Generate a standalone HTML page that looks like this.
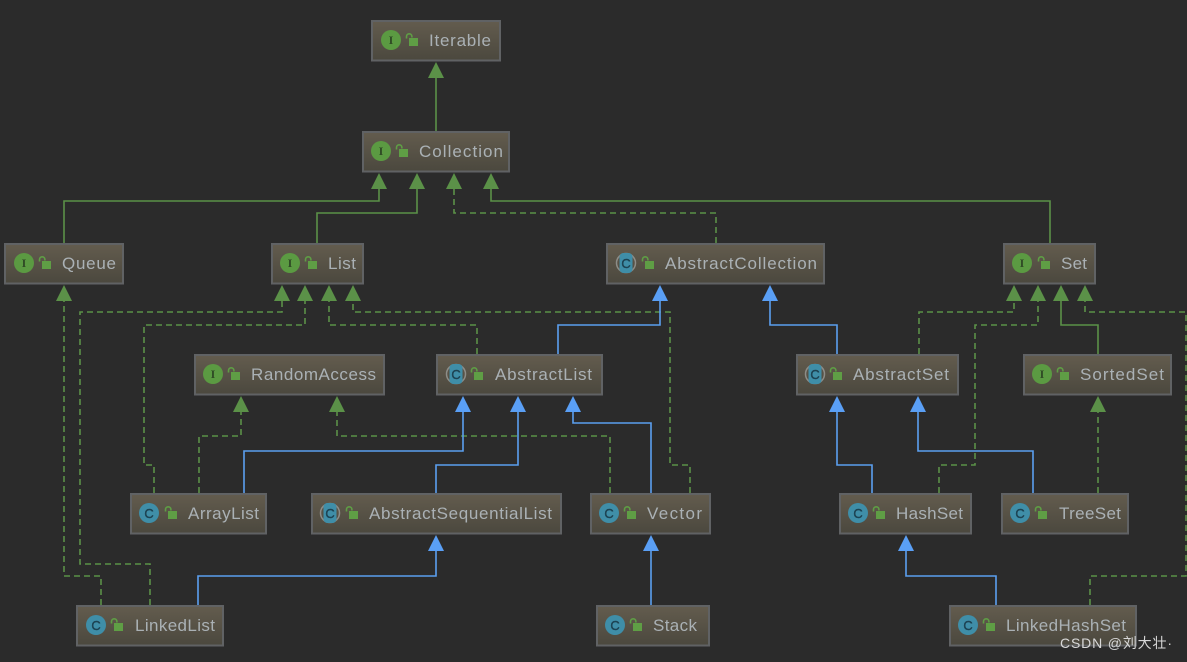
<!DOCTYPE html>
<html><head><meta charset="utf-8"><style>
html,body{margin:0;padding:0;background:#2b2b2b;width:1187px;height:662px;overflow:hidden}
svg{display:block}
.b{fill:url(#g);stroke:#606264;stroke-width:2}
.t{font:17px "Liberation Sans",sans-serif;fill:#aab1b5;filter:url(#s)}
.i{font:bold 12px "Liberation Serif",serif;fill:#2f4a25;text-anchor:middle}
.c{font:13px "Liberation Sans",sans-serif;fill:#1d4353;text-anchor:middle;stroke:#1d4353;stroke-width:.4}
.gs path,.gd path{fill:none;stroke:#5b9148;stroke-width:1.6}
.gd path{stroke-dasharray:6 4}
.bs path{fill:none;stroke:#5b9ff0;stroke-width:1.6}
.ga polygon{fill:#5b9148}
.ba polygon{fill:#5a9ff5}
.w{font:14px "Liberation Sans","Noto Sans CJK SC",sans-serif;fill:#d8d8d8}
</style></head><body>
<svg width="1187" height="662" viewBox="0 0 1187 662" xmlns="http://www.w3.org/2000/svg">
<defs>
<linearGradient id="g" x1="0" y1="0" x2="0" y2="1"><stop offset="0" stop-color="#635c4e"/><stop offset="1" stop-color="#4b483e"/></linearGradient>
<filter id="s" x="-5%" y="-20%" width="110%" height="140%"><feGaussianBlur stdDeviation="0.3"/></filter>
<g id="lock"><rect x="-3" y="-3" width="9" height="8" fill="#5f9e45"/><path d="M-5.500-2.500v-2a2.700 2.700 0 0 1 5.400 0v1" fill="none" stroke="#5f9e45" stroke-width="1.600"/></g>
<g id="ic"><circle r="10" fill="#5b9a42"/><text class="i" y="4">I</text></g>
<g id="cc"><circle r="10" fill="#3f8ea8"/><text class="c" y="5">C</text></g>
<g id="ac"><circle r="9.500" fill="none" stroke="#8d8d88" stroke-width="1.500"/><rect x="-6.500" y="-10" width="13" height="20" rx="4" fill="#3f8ea8"/><text class="c" y="5">C</text></g>
</defs>
<rect width="1187" height="662" fill="#2b2b2b"/>

<g class="gs">
<path d="M436 131V70"/>
<path d="M64 243V201H379V185"/>
<path d="M317 243V213H417V185"/>
<path d="M1050 243V201H491V185"/>
<path d="M1098 354V325H1061V297"/>
</g>
<g class="gd">
<path d="M716 243V213H454V185"/>
<path d="M101 605V576H64V297"/>
<path d="M150 605V564H80V312H282V297"/>
<path d="M154 493V465H144V325H305V297"/>
<path d="M477 354V325H329V297"/>
<path d="M690 493V465H670V312H353V297"/>
<path d="M199 493V436H241V408"/>
<path d="M610 493V436H337V408"/>
<path d="M919 354V312H1014V297"/>
<path d="M939 493V465H975V325H1038V297"/>
<path d="M1090 605V576H1186V312H1085V297"/>
<path d="M1098 493V408"/>
</g>
<g class="bs">
<path d="M558 354V325H660V297"/>
<path d="M837 354V325H770V297"/>
<path d="M244 493V451H463V408"/>
<path d="M436 493V465H518V408"/>
<path d="M651 493V423H573V408"/>
<path d="M872 493V465H837V408"/>
<path d="M1033 493V451H918V408"/>
<path d="M198 605V576H436V547"/>
<path d="M651 605V547"/>
<path d="M996 605V576H906V547"/>
</g>
<g class="ga">
<polygon points="436,62 428,78 444,78"/>
<polygon points="379,173 371,189 387,189"/>
<polygon points="417,173 409,189 425,189"/>
<polygon points="454,173 446,189 462,189"/>
<polygon points="491,173 483,189 499,189"/>
<polygon points="64,285 56,301 72,301"/>
<polygon points="282,285 274,301 290,301"/>
<polygon points="305,285 297,301 313,301"/>
<polygon points="329,285 321,301 337,301"/>
<polygon points="353,285 345,301 361,301"/>
<polygon points="1014,285 1006,301 1022,301"/>
<polygon points="1038,285 1030,301 1046,301"/>
<polygon points="1061,285 1053,301 1069,301"/>
<polygon points="1085,285 1077,301 1093,301"/>
<polygon points="241,396 233,412 249,412"/>
<polygon points="337,396 329,412 345,412"/>
<polygon points="1098,396 1090,412 1106,412"/>
</g>
<g class="ba">
<polygon points="660,285 652,301 668,301"/>
<polygon points="770,285 762,301 778,301"/>
<polygon points="463,396 455,412 471,412"/>
<polygon points="518,396 510,412 526,412"/>
<polygon points="573,396 565,412 581,412"/>
<polygon points="837,396 829,412 845,412"/>
<polygon points="918,396 910,412 926,412"/>
<polygon points="436,535 428,551 444,551"/>
<polygon points="651,535 643,551 659,551"/>
<polygon points="906,535 898,551 914,551"/>
</g>

<g>
<rect class="b" x="372" y="21" width="128" height="39.500"/><use href="#ic" x="391" y="40"/><use href="#lock" x="412" y="41"/><text class="t" x="429" y="46" textLength="62">Iterable</text>
<rect class="b" x="363" y="132" width="146" height="39.500"/><use href="#ic" x="381" y="151"/><use href="#lock" x="402" y="152"/><text class="t" x="419" y="157" textLength="84">Collection</text>
<rect class="b" x="5" y="244" width="118" height="39.500"/><use href="#ic" x="24" y="263"/><use href="#lock" x="45" y="264"/><text class="t" x="62" y="269" textLength="54">Queue</text>
<rect class="b" x="272" y="244" width="91" height="39.500"/><use href="#ic" x="290" y="263"/><use href="#lock" x="311" y="264"/><text class="t" x="328" y="269" textLength="28">List</text>
<rect class="b" x="607" y="244" width="217" height="39.500"/><use href="#ac" x="626" y="263"/><use href="#lock" x="648" y="264"/><text class="t" x="665" y="269" textLength="152">AbstractCollection</text>
<rect class="b" x="1004" y="244" width="91" height="39.500"/><use href="#ic" x="1022" y="263"/><use href="#lock" x="1044" y="264"/><text class="t" x="1061" y="269" textLength="26">Set</text>
<rect class="b" x="195" y="355" width="189" height="39.500"/><use href="#ic" x="213" y="374"/><use href="#lock" x="234" y="375"/><text class="t" x="251" y="380" textLength="125">RandomAccess</text>
<rect class="b" x="437" y="355" width="165" height="39.500"/><use href="#ac" x="456" y="374"/><use href="#lock" x="477" y="375"/><text class="t" x="495" y="380" textLength="97">AbstractList</text>
<rect class="b" x="797" y="355" width="161" height="39.500"/><use href="#ac" x="815" y="374"/><use href="#lock" x="836" y="375"/><text class="t" x="853" y="380" textLength="96">AbstractSet</text>
<rect class="b" x="1024" y="355" width="147" height="39.500"/><use href="#ic" x="1042" y="374"/><use href="#lock" x="1063" y="375"/><text class="t" x="1080" y="380" textLength="84">SortedSet</text>
<rect class="b" x="131" y="494" width="135" height="39.500"/><use href="#cc" x="149" y="513"/><use href="#lock" x="171" y="514"/><text class="t" x="188" y="519" textLength="71">ArrayList</text>
<rect class="b" x="312" y="494" width="249" height="39.500"/><use href="#ac" x="330" y="513"/><use href="#lock" x="352" y="514"/><text class="t" x="369" y="519" textLength="183">AbstractSequentialList</text>
<rect class="b" x="591" y="494" width="119" height="39.500"/><use href="#cc" x="609" y="513"/><use href="#lock" x="630" y="514"/><text class="t" x="647" y="519" textLength="55">Vector</text>
<rect class="b" x="840" y="494" width="131" height="39.500"/><use href="#cc" x="858" y="513"/><use href="#lock" x="879" y="514"/><text class="t" x="896" y="519" textLength="67">HashSet</text>
<rect class="b" x="1002" y="494" width="126" height="39.500"/><use href="#cc" x="1020" y="513"/><use href="#lock" x="1041" y="514"/><text class="t" x="1059" y="519" textLength="62">TreeSet</text>
<rect class="b" x="77" y="606" width="146" height="39.500"/><use href="#cc" x="96" y="625"/><use href="#lock" x="117" y="626"/><text class="t" x="135" y="631" textLength="80">LinkedList</text>
<rect class="b" x="597" y="606" width="112" height="39.500"/><use href="#cc" x="615" y="625"/><use href="#lock" x="636" y="626"/><text class="t" x="653" y="631" textLength="44">Stack</text>
<rect class="b" x="950" y="606" width="186" height="39.500"/><use href="#cc" x="968" y="625"/><use href="#lock" x="989" y="626"/><text class="t" x="1006" y="631" textLength="120">LinkedHashSet</text>
</g>
<text class="w" x="1060" y="648" textLength="112">CSDN @刘大壮·</text>
</svg>
</body></html>
